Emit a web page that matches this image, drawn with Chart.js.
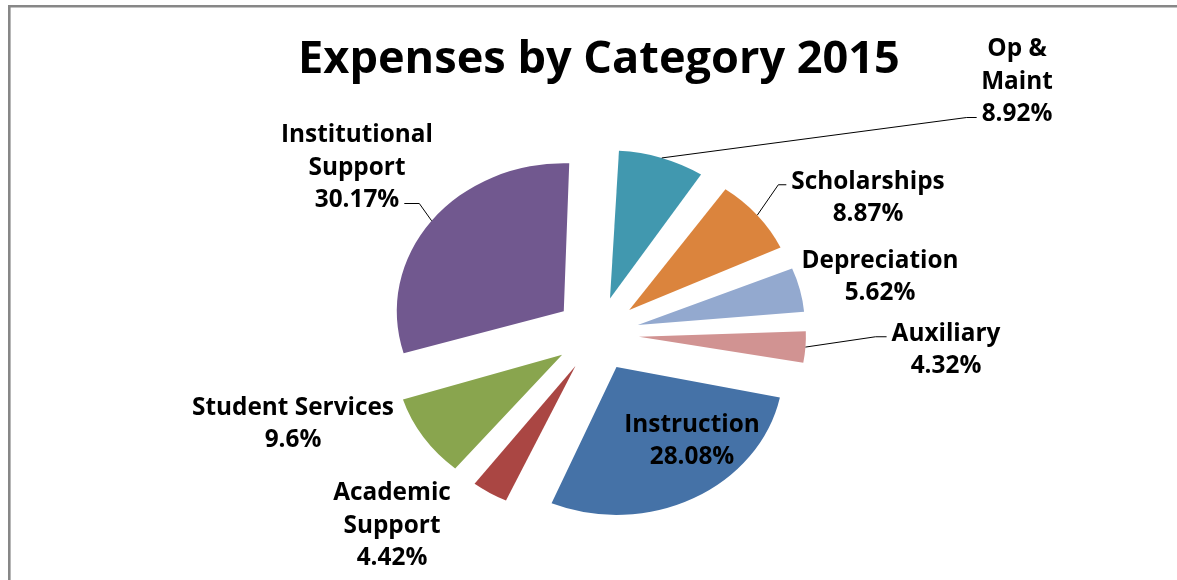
<!DOCTYPE html>
<html><head><meta charset="utf-8">
<script src="https://cdn.jsdelivr.net/npm/chart.js@4.4.1/dist/chart.umd.min.js"></script>
<style>html,body{margin:0;padding:0;background:#fff;overflow:hidden}canvas{display:block}</style>
</head><body>
<canvas id="c" width="1177" height="580"></canvas>
<script>
// ---- data ----
const titleText = 'Expenses by Category 2015';
const categories = ['Op & Maint', 'Scholarships', 'Depreciation', 'Auxiliary', 'Instruction', 'Academic Support', 'Student Services', 'Institutional Support'];
const percents = [8.92, 8.87, 5.62, 4.32, 28.08, 4.42, 9.6, 30.17];

// ---- styling / layout ----
const colors = ['#4198AF', '#DB843D', '#93A9CF', '#D19392', '#4572A7', '#AA4643', '#89A54E', '#71588F'];
const labelWrap = { 'Op & Maint': ['Op &', 'Maint'], 'Academic Support': ['Academic', 'Support'], 'Institutional Support': ['Institutional', 'Support'] };
const labelOffsets = [[420, -252], [271, -136], [283, -57], [349, 16], [95, 107], [-205, 192], [-304, 90], [-240, -166]];
const leaders = [{ side: 'left', line: 2, knee: 10 }, { side: 'left', line: 0, knee: 8 }, null, { side: 'left', line: 0, knee: 11 }, null, null, null, { side: 'right', line: 2, knee: 15 }];
const FONT = '"Open Sans", "DejaVu Sans", sans-serif';
const PIE_R = 167, SQUASH = 0.886, EXPLODE = 168, ROT = 2;
const LINE_H = 32.5;

// fit font sizes to reference text widths
const mctx = document.createElement('canvas').getContext('2d');
function fit(text, target) { mctx.font = 'bold 100px ' + FONT; return 100 * target / mctx.measureText(text).width; }
const titleSize = fit(titleText, 602);
const labelSize = fit('Student Services', 202);

const frame = {
  id: 'frame',
  beforeDraw(chart) {
    const ctx = chart.ctx;
    ctx.save();
    ctx.fillStyle = '#fff'; ctx.fillRect(0, 0, chart.width, chart.height);
    ctx.strokeStyle = '#878787'; ctx.lineWidth = 2.6;
    ctx.beginPath(); ctx.moveTo(9.3, chart.height); ctx.lineTo(9.3, 6.3); ctx.lineTo(chart.width, 6.3); ctx.stroke();
    ctx.restore();
  }
};
// keep every exploded slice at the same radius (Chart.js enlarges thin exploded slices)
const evenRadius = {
  id: 'evenRadius',
  afterDatasetsUpdate(chart) {
    chart.getDatasetMeta(0).data.forEach(arc => {
      const fix = 1 - Math.sin(Math.min(Math.PI, arc.circumference || 0));
      arc.outerRadius = PIE_R - (arc.options.offset / 4) * fix;
    });
  }
};
const squash = {
  id: 'squash',
  beforeDatasetsDraw(chart) {
    const ctx = chart.ctx, a = chart.chartArea, cy = (a.top + a.bottom) / 2;
    ctx.save(); ctx.translate(0, cy); ctx.scale(1, SQUASH); ctx.translate(0, -cy);
  },
  afterDatasetsDraw(chart) { chart.ctx.restore(); }
};
const labels = {
  id: 'labels',
  afterDraw(chart) {
    const ctx = chart.ctx;
    const meta = chart.getDatasetMeta(0);
    ctx.save();
    ctx.fillStyle = '#000';
    ctx.textBaseline = 'middle';
    ctx.textAlign = 'center';
    const a = chart.chartArea;
    ctx.font = 'bold ' + titleSize + 'px ' + FONT;
    ctx.fillText(titleText, (a.left + a.right) / 2 + 2, 60);
    ctx.font = 'bold ' + labelSize + 'px ' + FONT;
    meta.data.forEach((arc, i) => {
      const p = arc.getProps(['x', 'y', 'startAngle', 'endAngle'], true);
      const lines = (labelWrap[categories[i]] || [categories[i]]).concat([percents[i] + '%']);
      const lx = p.x + labelOffsets[i][0], ly = p.y + labelOffsets[i][1];
      const top = ly - (lines.length - 1) * LINE_H / 2;
      lines.forEach((t, j) => ctx.fillText(t, lx, top + j * LINE_H));
      const L = leaders[i];
      if (L) {
        const mid = (p.startAngle + p.endAngle) / 2;
        const r = PIE_R + arc.options.offset / 4;
        const sx = p.x + Math.cos(mid) * r;
        const sy = p.y + Math.sin(mid) * r * SQUASH;
        const w = ctx.measureText(lines[L.line]).width;
        const ey = top + L.line * LINE_H + 3;
        const ex = L.side === 'left' ? lx - w / 2 - 5 : lx + w / 2 + 5;
        const kx = L.side === 'left' ? ex - L.knee : ex + L.knee;
        ctx.strokeStyle = '#000'; ctx.lineWidth = 1;
        ctx.beginPath(); ctx.moveTo(sx, sy); ctx.lineTo(kx, ey); ctx.lineTo(ex, ey); ctx.stroke();
      }
    });
    ctx.restore();
  }
};

new Chart(document.getElementById('c'), {
  type: 'pie',
  data: {
    labels: categories,
    datasets: [{
      data: percents,
      backgroundColor: colors,
      borderWidth: 0,
      offset: EXPLODE,
      hoverOffset: 0,
      radius: PIE_R,
      rotation: ROT
    }]
  },
  options: {
    responsive: false,
    animation: false,
    events: [],
    layout: { padding: { left: 17, right: 0, top: 88, bottom: 0 } },
    plugins: { legend: { display: false }, title: { display: false }, tooltip: { enabled: false } }
  },
  plugins: [frame, evenRadius, squash, labels]
});
</script>
</body></html>
